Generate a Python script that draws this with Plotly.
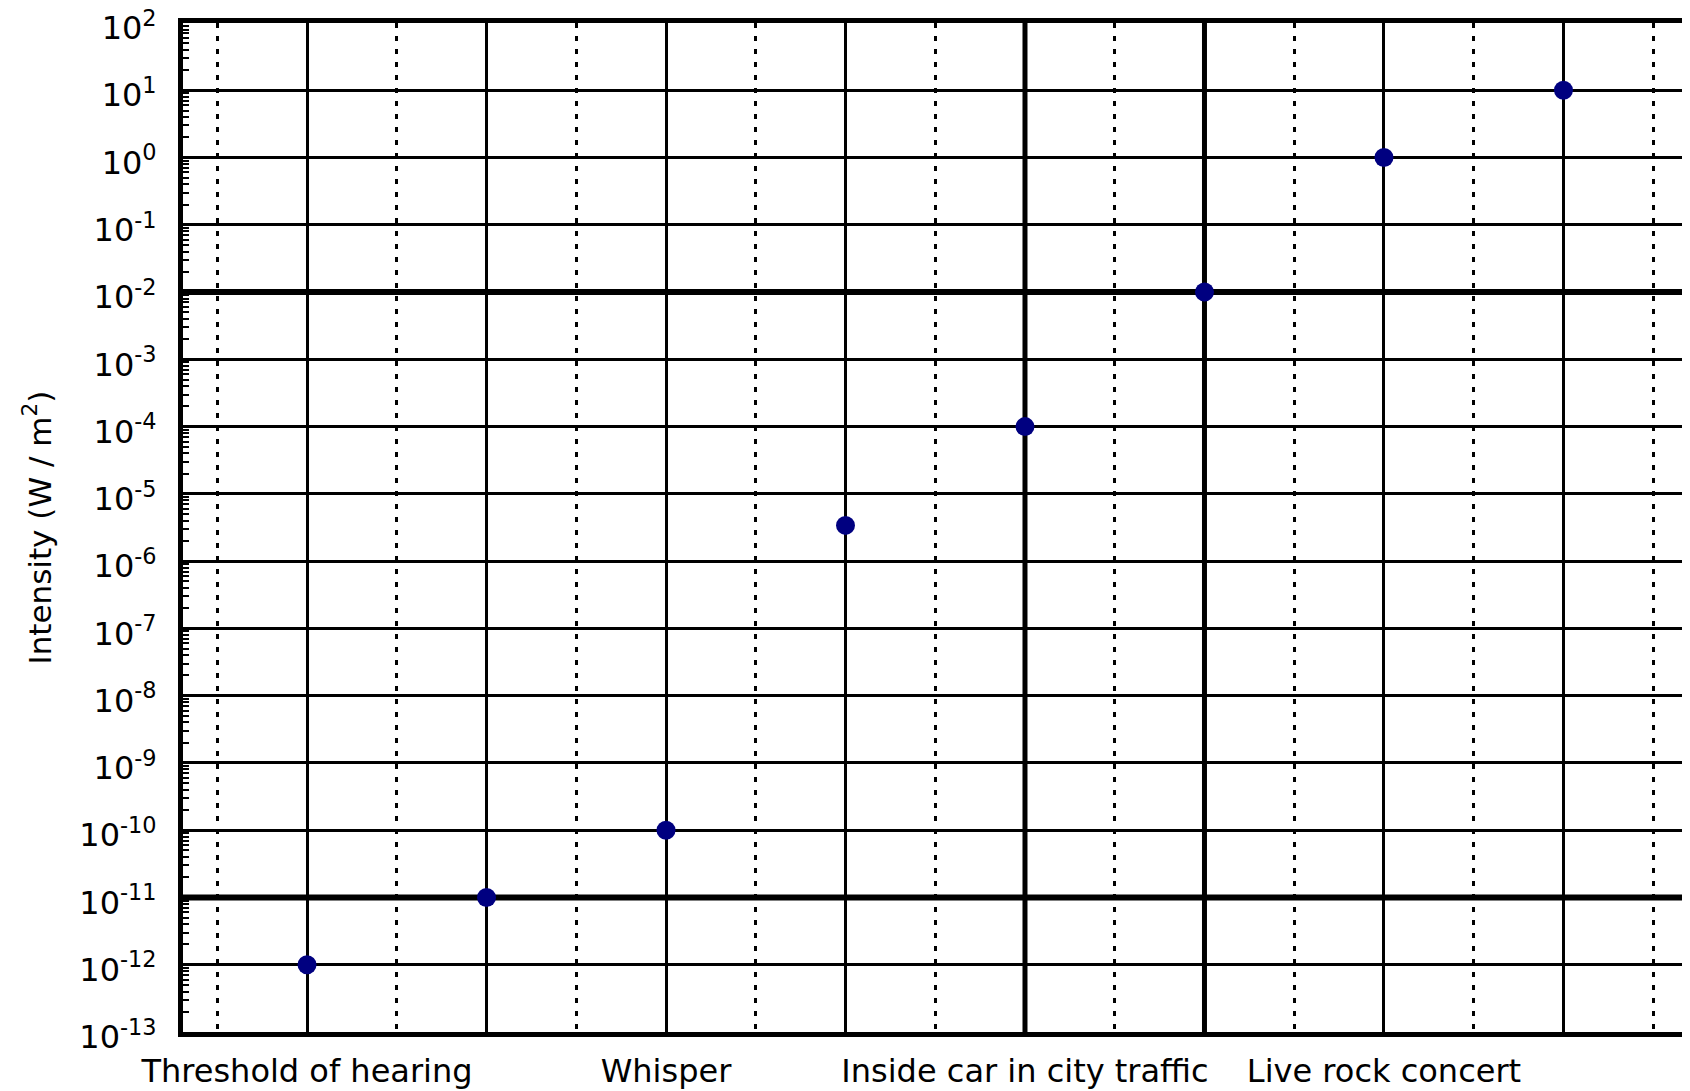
import plotly.graph_objects as go

# ---- data ----
positions = [1, 2, 3, 4, 5, 6, 7, 8]
intensity = [1e-12, 1e-11, 1e-10, 3.4e-6, 1e-4, 1e-2, 1e0, 1e1]
x_ticklabels = ["Threshold of hearing", "", "Whisper", "",
                "Inside car in city traffic", "", "Live rock concert", ""]
y_tickvals = [1e2, 1e1, 1e0, 1e-1, 1e-2, 1e-3, 1e-4, 1e-5, 1e-6, 1e-7,
              1e-8, 1e-9, 1e-10, 1e-11, 1e-12, 1e-13]
y_ticktext = ["10<sup>2</sup>", "10<sup>1</sup>", "10<sup>0</sup>", "10<sup>-1</sup>",
              "10<sup>-2</sup>", "10<sup>-3</sup>", "10<sup>-4</sup>", "10<sup>-5</sup>",
              "10<sup>-6</sup>", "10<sup>-7</sup>", "10<sup>-8</sup>", "10<sup>-9</sup>",
              "10<sup>-10</sup>", "10<sup>-11</sup>", "10<sup>-12</sup>", "10<sup>-13</sup>"]
half_positions = [0.5, 1.5, 2.5, 3.5, 4.5, 5.5, 6.5, 7.5, 8.5]
thick_y_values = [1e-2, 1e-11]
thick_x_positions = [5, 6]
y_title = "Intensity (W / m<sup>2</sup>)"

FONT = "DejaVu Sans"

fig = go.Figure()
fig.add_trace(go.Scatter(
    x=positions, y=intensity, mode="markers",
    marker=dict(symbol="circle", size=19, color="#000080", line=dict(width=0)),
    showlegend=False, hoverinfo="skip",
))

shapes = []
for yv in thick_y_values:
    shapes.append(dict(type="line", xref="paper", yref="y", x0=0, x1=1, y0=yv, y1=yv,
                       line=dict(color="black", width=6), layer="between"))
for xv in thick_x_positions:
    shapes.append(dict(type="line", xref="x", yref="paper", x0=xv, x1=xv, y0=0, y1=1,
                       line=dict(color="black", width=5), layer="between"))

# the page body has an 8px margin: the figure starts at (8, 8) in the window
fig.update_layout(
    width=1682, height=1083,
    margin=dict(l=175, r=0, t=15, b=59, pad=0, autoexpand=False),
    plot_bgcolor="white", paper_bgcolor="white",
    font=dict(family=FONT, color="black", size=32),
    shapes=shapes,
    showlegend=False,
    annotations=[dict(
        text=y_title, textangle=-90, showarrow=False,
        xref="paper", yref="paper", x=0, y=0.5,
        xanchor="center", yanchor="middle", xshift=-146,
        font=dict(family=FONT, size=31, color="black"),
    )],
)

fig.update_xaxes(
    range=[0.309, 8.705], automargin=False,
    tickmode="array", tickvals=positions, ticktext=x_ticklabels,
    ticks="", showgrid=True, gridcolor="black", gridwidth=3,
    showline=True, linecolor="black", linewidth=5, mirror=True,
    zeroline=False,
    tickfont=dict(family=FONT, size=32, color="black"),
    ticklabelstandoff=7, ticklabeloverflow="allow",
    minor=dict(tickmode="array", tickvals=half_positions, showgrid=True,
               gridcolor="black", gridwidth=3, griddash="5px,8px", ticks=""),
)

fig.update_yaxes(
    type="log", range=[-13, 2], automargin=False,
    tickmode="array", tickvals=y_tickvals, ticktext=y_ticktext,
    ticks="inside", ticklen=10, tickwidth=2, tickcolor="black",
    showgrid=True, gridcolor="black", gridwidth=3,
    showline=True, linecolor="black", linewidth=5, mirror="allticks",
    zeroline=False,
    tickfont=dict(family=FONT, size=32, color="black"),
    ticklabelstandoff=15, ticklabeloverflow="allow", ticklabelshift=5,
    minor=dict(ticks="inside", ticklen=6, tickwidth=2, tickcolor="black",
               dtick="D1", showgrid=False),
)

fig.write_html("out.html")
